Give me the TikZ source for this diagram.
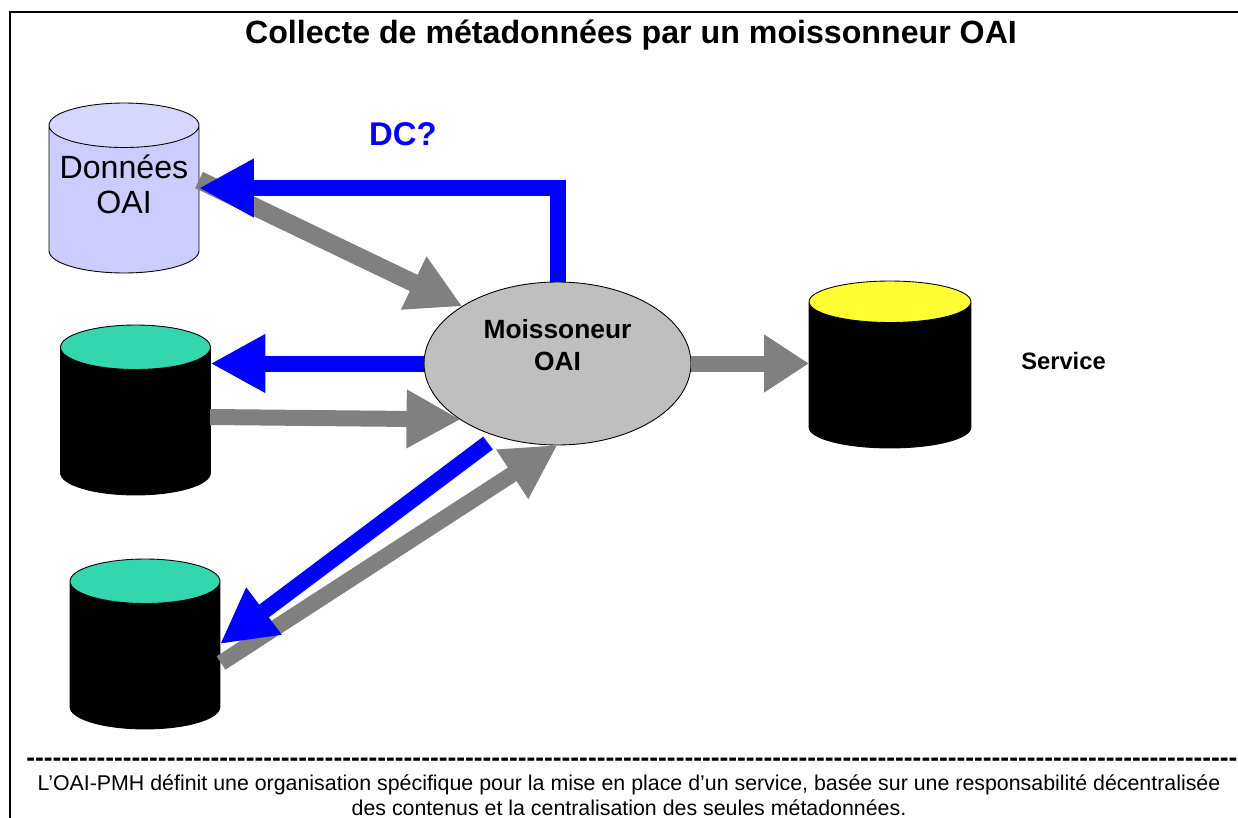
\documentclass[tikz,border=0pt]{standalone}
\usepackage{fontspec}
\setmainfont{Liberation Sans}
\newfontfamily\tiretfont[RawFeature={-liga}]{Liberation Sans}
\usetikzlibrary{arrows.meta,positioning,shapes.geometric}
\definecolor{bleuflux}{rgb}{0.,0.,1.}
\definecolor{grisflux}{rgb}{0.5,0.5,0.5}
\definecolor{vertbase}{rgb}{0.2,0.84,0.68}
\definecolor{jaunebase}{rgb}{1.,1.,0.2}
\definecolor{lilacorps}{rgb}{0.8,0.8,1.}
\definecolor{lilachaut}{rgb}{0.84,0.84,1.}
\newcommand{\videbase}{\phantom{OAI}}
\tikzset{
  basecyl/.style={cylinder,shape border rotate=90,aspect=1.47,draw=black,line width=0.5pt,
    cylinder uses custom fill,cylinder body fill=black,cylinder end fill=vertbase,anchor=shape center,
    minimum width=3cm,minimum height=3.4cm,inner sep=0pt,outer sep=0pt},
  fluxgris/.style={line width=0.32cm,draw=grisflux,-{Triangle[length=1.08cm,width=1.1cm]}},
  fluxbleu/.style={line width=0.32cm,draw=bleuflux,-{Triangle[length=1.1cm,width=1.1cm]}}
}
\begin{document}
\begin{tikzpicture}[x=0.02cm,y=-0.02cm]
\useasboundingbox (0,0) rectangle (1238,818);
\draw [line width=1.1pt] (10,818)-- (10,12)-- (1238,12);
\node (titre) at (631,35) {\fontsize{18.3pt}{21pt}\selectfont\bfseries Collecte de métadonnées par un moissonneur OAI};
% les bases
\node [basecyl,cylinder body fill=lilacorps,cylinder end fill=lilachaut] (don) at (124,188) {\videbase};
\node [basecyl] (bas) at (135.5,410) {\videbase};
\node [basecyl] (bis) at (145,644) {\videbase};
\node [basecyl,aspect=1.37,minimum width=3.24cm,minimum height=3.34cm,cylinder end fill=jaunebase] (ser) at (890,364.5) {\videbase};
\node [ellipse,draw=black,fill=black!25,line width=0.5pt,minimum width=5.34cm,minimum height=3.26cm,inner sep=0pt,outer sep=0pt] (moi) at (557.5,363.5) {};
\node [align=center,font=\fontsize{18.3pt}{20pt}\selectfont] (dont) at (124,184) {Données\\OAI};
\node [align=center,font=\fontsize{15pt}{18pt}\selectfont\bfseries] (moit) at (557.5,345) {Moissoneur\\OAI};
\node [text=bleuflux,font=\fontsize{18.7pt}{21pt}\selectfont\bfseries] (dc) at (403,134) {DC?};
\node [font=\fontsize{13.5pt}{16pt}\selectfont\bfseries] (srv) at (1063.5,361) {Service};
% les fleches
\coordinate (c1) at (488,443);
\coordinate (c2) at (221,663);
\coordinate (c3) at (210,417);
\coordinate (c4) at (199,180);
\coordinate (c5) at (don.shape center -| don.east);
\coordinate (c6) at (bis.shape center -| bis.east);
\draw [fluxgris,line width=0.36cm] (c4)-- (moi.149);
\draw [fluxbleu] (moi.north) |- (c5);
\draw [fluxbleu] (moi.west)-- (moi.west -| bas.east);
\draw [fluxgris] (c3)-- (moi.210);
\draw [fluxgris] (c2)-- (moi.south);
\draw [fluxbleu] (c1)-- (c6);
\draw [fluxgris,-{Triangle[length=0.9cm,width=1.1cm]}] (moi.east)-- (moi.east -| ser.west);
% le bas
\node [anchor=west,font=\tiretfont\fontsize{15pt}{18pt}\selectfont\bfseries,inner sep=0pt] (tirets) at (26,762) {------------------------------------------------------------------------------------------------------------------------------------------};
\node [align=center,font=\fontsize{12.16pt}{14pt}\selectfont] (texte) at (629,795) {L’OAI-PMH définit une organisation spécifique pour la mise en place d’un service, basée sur une responsabilité décentralisée\\des contenus et la centralisation des seules métadonnées.};
\end{tikzpicture}
\end{document}
